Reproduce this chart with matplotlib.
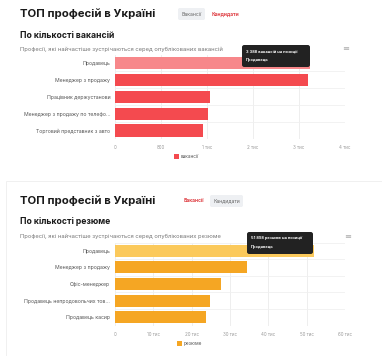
import matplotlib.pyplot as plt
import matplotlib.patches as patches

plt.rcParams['font.family'] = ['Inter', 'DejaVu Sans']

# dados - vacancias
vac_cats = ["Продавець", "Менеджер з продажу", "Працівник держустанови",
            "Менеджер з продажу по телефо...", "Торговий представник з авто"]
vac_vals = [3388, 3362, 1652, 1623, 1536]
vac_ticks = [0, 800, 1600, 2400, 3200, 4000]
vac_tick_labels = ["0", "800", "1 тис", "2 тис", "3 тис", "4 тис"]

# dados - resumes
res_cats = ["Продавець", "Менеджер з продажу", "Офіс-менеджер",
            "Продавець непродовольчих тов...", "Продавець касир"]
res_vals = [51898, 34400, 27600, 24800, 23700]
res_ticks = [0, 10000, 20000, 30000, 40000, 50000, 60000]
res_tick_labels = ["0", "10 тис", "20 тис", "30 тис", "40 тис", "50 тис", "60 тис"]

W, H = 382, 356
fig = plt.figure(figsize=(W / 100, H / 100), dpi=100)
fig.patch.set_facecolor("white")


def px(x, y):
    return x / W, 1 - y / H


def txt(x, y, s, **kw):
    fx, fy = px(x, y)
    fig.text(fx, fy, s, **kw)


def button(x0, x1, y, s, active):
    if active:
        fx, fy = px(x0, y + 6)
        fig.patches.append(patches.FancyBboxPatch(
            (fx, fy), (x1 - x0) / W, 12 / H, boxstyle="round,pad=0,rounding_size=0.005",
            transform=fig.transFigure, facecolor="#eef0f3", edgecolor="none"))
        txt((x0 + x1) / 2, y, s, fontsize=3.6, color="#666666", ha="center", va="center")
    else:
        txt((x0 + x1) / 2, y, s, fontsize=3.6, color="#e0464b", ha="center", va="center",
            fontweight="bold")


def painel(rect, cats, vals, ticks, labels, cor, cor_hover):
    ax = fig.add_axes(rect)
    ys = list(range(len(cats)))
    cores = [cor_hover] + [cor] * (len(cats) - 1)
    ax.barh(ys, vals, height=0.72, color=cores, zorder=3)
    ax.set_xlim(ticks[0], ticks[-1])
    ax.set_ylim(len(cats) - 0.5, -0.5)
    ax.set_xticks(ticks)
    ax.set_xticklabels(labels, fontsize=3.2, color="#999999")
    ax.set_yticks(ys)
    ax.set_yticklabels(cats, fontsize=3.7, color="#555555")
    ax.set_yticks([i - 0.5 for i in range(len(cats) + 1)], minor=True)
    ax.tick_params(axis="both", which="both", length=0)
    ax.tick_params(axis="y", pad=3.5)
    ax.tick_params(axis="x", pad=4.5)
    ax.grid(axis="x", which="major", color="#ebebeb", linewidth=0.6, zorder=0)
    ax.grid(axis="y", which="minor", color="#f0f0f0", linewidth=0.6, zorder=0)
    for s in ax.spines.values():
        s.set_visible(False)
    return ax


# cartao inferior (so a borda)
fig.patches.append(patches.Rectangle(px(6, 356), 380 / W, 175 / H, transform=fig.transFigure,
                                     facecolor="none", edgecolor="#eeeeee", linewidth=0.6))

# painel superior
txt(20, 14, "ТОП професій в Україні", fontsize=8.2, fontweight="bold", color="#1a1a1a", va="center")
button(178, 205, 14, "Вакансії", True)
button(210, 240, 14, "Кандидати", False)
txt(20, 35, "По кількості вакансій", fontsize=6.2, fontweight="bold", color="#1a1a1a", va="center")
txt(20, 49, "Професії, які найчастіше зустрічаються серед опублікованих вакансій",
    fontsize=4.2, color="#777777", va="center")
txt(346, 49, "≡", fontsize=6, color="#aaaaaa", ha="center", va="center")

l, b = px(115, 139)
painel([l, b, 230 / W, 84.5 / H], vac_cats, vac_vals, vac_ticks, vac_tick_labels,
       "#f44a4f", "#f7878a")
fig.patches.append(patches.Rectangle(px(174, 159), 5 / W, 5 / H, transform=fig.transFigure,
                                     facecolor="#f44a4f", edgecolor="none"))
txt(181, 156.5, "вакансії", fontsize=3.4, color="#555555", va="center")

# tooltip superior
tip = patches.FancyBboxPatch(px(242, 67), 68 / W, 22 / H,
                             boxstyle="round,pad=0,rounding_size=0.006",
                             transform=fig.transFigure, facecolor="#222222",
                             edgecolor="none", zorder=10)
fig.add_artist(tip)
txt(246, 51, "3 388 вакансій на позиції", fontsize=2.9, color="white", fontweight="bold",
    va="center", zorder=11)
txt(246, 60, "Продавець", fontsize=2.9, color="white", fontweight="bold", va="center", zorder=11)

# painel inferior
txt(20, 201, "ТОП професій в Україні", fontsize=8.2, fontweight="bold", color="#1a1a1a", va="center")
button(181, 207, 201, "Вакансії", False)
button(210, 243, 201, "Кандидати", True)
txt(20, 222, "По кількості резюме", fontsize=6.2, fontweight="bold", color="#1a1a1a", va="center")
txt(20, 236, "Професії, які найчастіше зустрічаються серед опублікованих резюме",
    fontsize=4.2, color="#777777", va="center")
txt(348, 237, "≡", fontsize=6, color="#aaaaaa", ha="center", va="center")

l, b = px(115, 325.5)
painel([l, b, 230 / W, 83 / H], res_cats, res_vals, res_ticks, res_tick_labels,
       "#f5a623", "#fbc95b")
fig.patches.append(patches.Rectangle(px(177, 345.5), 5 / W, 5 / H, transform=fig.transFigure,
                                     facecolor="#f5a623", edgecolor="none"))
txt(184, 343, "резюме", fontsize=3.4, color="#555555", va="center")

# tooltip inferior
tip2 = patches.FancyBboxPatch(px(247, 254), 66 / W, 22 / H,
                              boxstyle="round,pad=0,rounding_size=0.006",
                              transform=fig.transFigure, facecolor="#222222",
                              edgecolor="none", zorder=10)
fig.add_artist(tip2)
txt(251, 238, "51 898 резюме на позиції", fontsize=2.9, color="white", fontweight="bold",
    va="center", zorder=11)
txt(251, 247, "Продавець", fontsize=2.9, color="white", fontweight="bold", va="center", zorder=11)

fig.savefig("out.png", dpi=100)
